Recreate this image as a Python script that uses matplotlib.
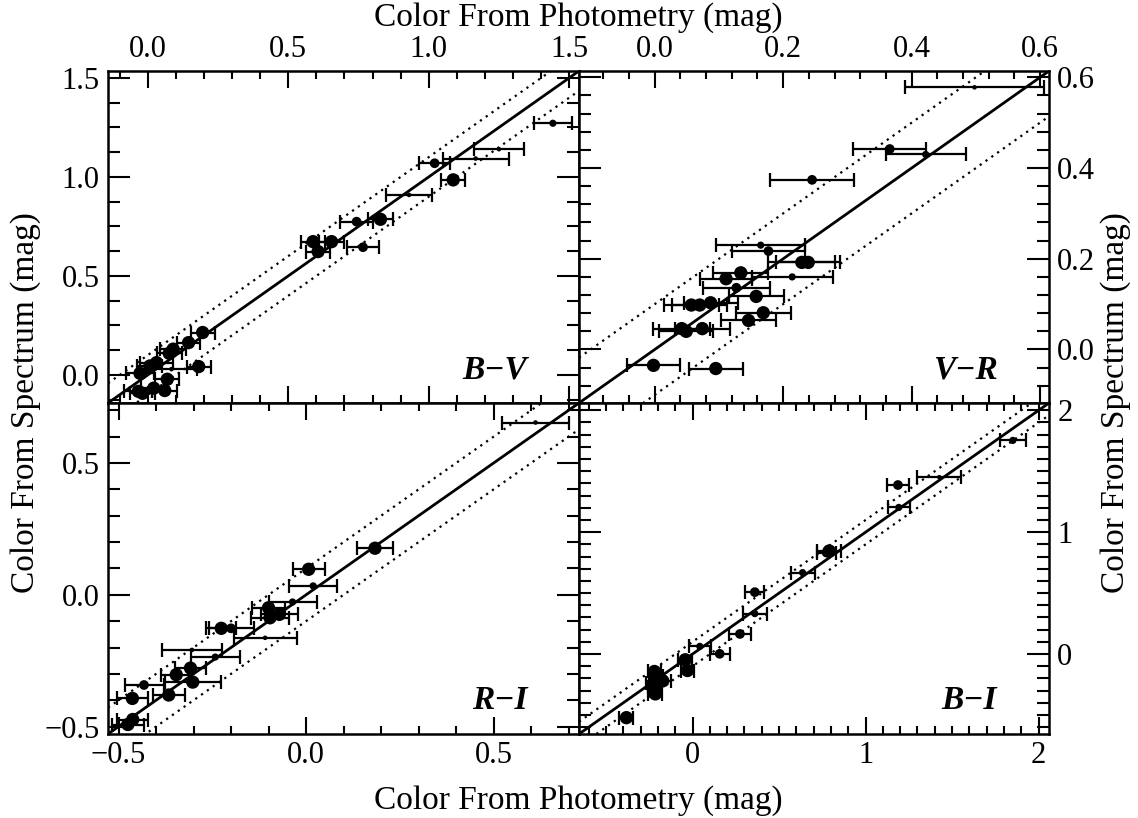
import matplotlib
matplotlib.use('Agg')
import matplotlib.pyplot as plt
from matplotlib.ticker import MultipleLocator, FuncFormatter

plt.rcParams['font.family'] = ['Liberation Serif', 'DejaVu Serif']
plt.rcParams['axes.linewidth'] = 1.8

# photometric colour (x), spectral colour (y), x error, point weight class (1-4)
bv_phot = [1.442, 1.250, 1.167, 1.021, 1.087, 0.930, 0.743, 0.828, 0.766, 0.588, 0.654, 0.606,
           0.195, 0.145, 0.090, 0.076, 0.031, 0.007, -0.028, 0.084, 0.181, 0.069, 0.021, 0.060,
           -0.019, -0.034]
bv_spec = [1.271, 1.140, 1.093, 1.069, 0.985, 0.909, 0.774, 0.786, 0.645, 0.673, 0.673, 0.623,
           0.214, 0.163, 0.130, 0.109, 0.062, 0.045, 0.008, 0.029, 0.042, -0.022, -0.067, -0.079,
           -0.093, -0.083]
bv_err = [0.069, 0.090, 0.117, 0.056, 0.043, 0.082, 0.059, 0.046, 0.056, 0.044, 0.044, 0.044,
          0.043, 0.042, 0.046, 0.045, 0.060, 0.045, 0.050, 0.090, 0.043, 0.043, 0.045, 0.045,
          0.045, 0.050]
bv_wt = [2, 1, 1, 3, 4, 1, 3, 4, 3, 4, 4, 4, 4, 4, 4, 4, 4, 4, 4, 1, 4, 4, 4, 4, 4, 4]

vr_phot = [0.498, 0.366, 0.422, 0.245, 0.165, 0.177, 0.229, 0.239, 0.134, 0.111, 0.214, 0.127,
           0.158, 0.057, 0.070, 0.087, 0.169, 0.146, 0.042, 0.049, 0.074, -0.002, 0.095]
vr_spec = [0.578, 0.442, 0.430, 0.374, 0.230, 0.217, 0.192, 0.192, 0.169, 0.156, 0.160, 0.136,
           0.117, 0.098, 0.098, 0.103, 0.081, 0.064, 0.046, 0.040, 0.046, -0.035, -0.042]
vr_err = [0.108, 0.057, 0.062, 0.065, 0.069, 0.057, 0.052, 0.050, 0.043, 0.041, 0.063, 0.052,
          0.043, 0.043, 0.043, 0.042, 0.043, 0.043, 0.044, 0.042, 0.043, 0.042, 0.042]
vr_wt = [1, 3, 2, 3, 2, 3, 4, 4, 4, 4, 2, 3, 4, 4, 4, 4, 4, 4, 4, 4, 4, 4, 4]

ri_phot = [0.612, 0.184, 0.007, 0.019, -0.036, -0.100, -0.071, -0.096, -0.226, -0.200, -0.109,
           -0.304, -0.242, -0.308, -0.346, -0.302, -0.432, -0.366, -0.463, -0.462, -0.475]
ri_spec = [0.654, 0.177, 0.097, 0.034, -0.027, -0.049, -0.074, -0.087, -0.127, -0.127, -0.163,
           -0.209, -0.236, -0.278, -0.303, -0.331, -0.342, -0.380, -0.393, -0.473, -0.492]
ri_err = [0.090, 0.049, 0.043, 0.064, 0.064, 0.045, 0.050, 0.050, 0.040, 0.060, 0.084,
          0.081, 0.065, 0.041, 0.040, 0.075, 0.052, 0.043, 0.042, 0.042, 0.042]
ri_wt = [1, 4, 4, 2, 2, 4, 4, 4, 4, 3, 1, 1, 2, 4, 4, 4, 3, 4, 4, 4, 4]

bi_phot = [1.851, 1.426, 1.187, 1.192, 0.790, 0.775, 0.636, 0.360, 0.360, 0.274, 0.042, 0.157,
           -0.042, -0.029, -0.220, -0.211, -0.172, -0.226, -0.220, -0.215, -0.382]
bi_spec = [1.753, 1.451, 1.387, 1.203, 0.846, 0.832, 0.668, 0.508, 0.332, 0.165, 0.063, 0.002,
           -0.047, -0.135, -0.143, -0.184, -0.220, -0.239, -0.272, -0.327, -0.522]
bi_err = [0.076, 0.126, 0.063, 0.063, 0.070, 0.055, 0.069, 0.055, 0.071, 0.064, 0.063, 0.057,
          0.040, 0.040, 0.040, 0.040, 0.050, 0.040, 0.040, 0.040, 0.040]
bi_wt = [2, 1, 3, 2, 4, 3, 2, 3, 2, 3, 2, 3, 4, 4, 4, 4, 4, 4, 4, 4, 4]

SIZES = {1: 3.3, 2: 5.2, 3: 7.0, 4: 9.6}
OFFSET = 0.1

W, H = 1138, 818
fig = plt.figure(figsize=(W / 100, H / 100), dpi=100)

x0, xm, x1 = 108, 579, 1049
y0, ym, y1 = 71, 403, 734


def box(left, top, right, bottom):
    return [left / W, 1 - bottom / H, (right - left) / W, (bottom - top) / H]


def minus(fmt):
    return FuncFormatter(lambda v, p: (fmt % v).replace('-', '\u2212'))


panels = [
    dict(rect=box(x0, y0, xm, ym), lim=(-0.142, 1.535), data=(bv_phot, bv_spec, bv_err, bv_wt),
         major=(0.5, 0.5), minor=(0.1, 0.125), fmt='%.1f', name='B\u2212V',
         labels=dict(labeltop=True, labelbottom=False, labelleft=True, labelright=False)),
    dict(rect=box(xm, y0, x1, ym), lim=(-0.118, 0.614), data=(vr_phot, vr_spec, vr_err, vr_wt),
         major=(0.2, 0.2), minor=(0.04, 0.04), fmt='%.1f', name='V\u2212R',
         labels=dict(labeltop=True, labelbottom=False, labelleft=False, labelright=True)),
    dict(rect=box(x0, ym, xm, y1), lim=(-0.528, 0.728), data=(ri_phot, ri_spec, ri_err, ri_wt),
         major=(0.5, 0.5), minor=(0.1, 0.1), fmt='%.1f', name='R\u2212I',
         labels=dict(labeltop=False, labelbottom=True, labelleft=True, labelright=False)),
    dict(rect=box(xm, ym, x1, y1), lim=(-0.656, 2.06), data=(bi_phot, bi_spec, bi_err, bi_wt),
         major=(1, 1), minor=(0.1, 0.1), fmt='%d', name='B\u2212I',
         labels=dict(labeltop=False, labelbottom=True, labelleft=False, labelright=True)),
]

for p in panels:
    ax = fig.add_axes(p['rect'])
    lo, hi = p['lim']
    xs, ys, xe, wt = p['data']

    ax.plot([lo, hi], [lo, hi], color='black', lw=2.0, zorder=2)
    for off in (OFFSET, -OFFSET):
        ax.plot([lo, hi], [lo + off, hi + off], color='black', lw=1.6,
                linestyle=(0, (1, 2.2)), zorder=2)

    ax.errorbar(xs, ys, xerr=xe, fmt='none', ecolor='black', elinewidth=1.6,
                capsize=5, capthick=1.6, zorder=3)
    ax.scatter(xs, ys, s=[SIZES[w] ** 2 for w in wt], color='black', zorder=4, linewidths=0)

    ax.set_xlim(lo, hi)
    ax.set_ylim(lo, hi)
    ax.xaxis.set_major_locator(MultipleLocator(p['major'][0]))
    ax.xaxis.set_minor_locator(MultipleLocator(p['minor'][0]))
    ax.yaxis.set_major_locator(MultipleLocator(p['major'][1]))
    ax.yaxis.set_minor_locator(MultipleLocator(p['minor'][1]))
    ax.xaxis.set_major_formatter(minus(p['fmt']))
    ax.yaxis.set_major_formatter(minus(p['fmt']))

    ax.tick_params(axis='both', which='both', direction='in', top=True, bottom=True,
                   left=True, right=True, width=1.5, labelsize=22, **p['labels'])
    ax.tick_params(axis='x', which='major', length=12, pad=5)
    ax.tick_params(axis='x', which='minor', length=6)
    ax.tick_params(axis='y', which='major', length=16, pad=6)
    ax.tick_params(axis='y', which='minor', length=8.5)

    ax.text(0.89, 0.075, p['name'], transform=ax.transAxes, ha='right', va='baseline',
            fontsize=24, fontweight='bold', fontstyle='italic')

fig.text(578 / W, 1 - 18 / H, 'Color From Photometry (mag)', ha='center', va='center', fontsize=24)
fig.text(578 / W, 1 - 801 / H, 'Color From Photometry (mag)', ha='center', va='center', fontsize=24)
fig.text(26 / W, 1 - 403 / H, 'Color From Spectrum (mag)', ha='center', va='center',
         rotation=90, fontsize=24)
fig.text(1116 / W, 1 - 403 / H, 'Color From Spectrum (mag)', ha='center', va='center',
         rotation=90, fontsize=24)

fig.savefig('out.png', dpi=100)
